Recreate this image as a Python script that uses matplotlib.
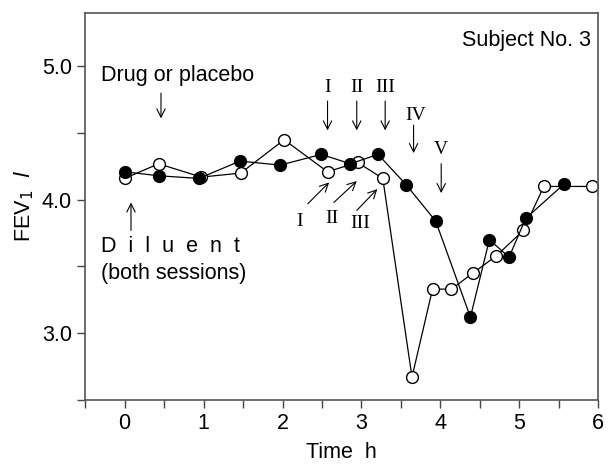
import numpy as np
import matplotlib
matplotlib.use("Agg")
import matplotlib.pyplot as plt
from matplotlib.ticker import MultipleLocator, FormatStrFormatter

plt.rcParams.update({"font.family": ["Liberation Sans", "DejaVu Sans"],
                     "font.size": 15})

# drug session (filled)
t_drug = [0.0, 0.43, 0.94, 1.46, 1.97, 2.49, 2.86, 3.21, 3.57, 3.94, 4.38, 4.62, 4.87, 5.08, 5.57]
fev_drug = [4.21, 4.18, 4.16, 4.29, 4.26, 4.34, 4.27, 4.34, 4.11, 3.84, 3.12, 3.70, 3.57, 3.86, 4.12]

# placebo session (open)
t_plac = [0.0, 0.43, 0.97, 1.47, 2.02, 2.57, 2.95, 3.27, 3.64, 3.90, 4.14, 4.41, 4.71, 5.05, 5.31, 5.92]
fev_plac = [4.16, 4.27, 4.17, 4.20, 4.45, 4.21, 4.28, 4.16, 2.67, 3.33, 3.33, 3.45, 3.58, 3.77, 4.10, 4.10]

x_ticks = [0, 1, 2, 3, 4, 5, 6]
y_ticks = [3.0, 4.0, 5.0]

fig = plt.figure(figsize=(6.13, 4.66), dpi=100)
ax = fig.add_axes([0.139, 0.142, 0.837, 0.830])

ax.plot(t_plac, fev_plac, "-", color="black", lw=0.9, marker="o", ms=8.5,
        mfc="white", mec="black", mew=1.0, zorder=2)
ax.plot(t_drug, fev_drug, "-", color="black", lw=0.9, marker="o", ms=8.5,
        mfc="black", mec="black", zorder=3)

ax.set_xlim(-0.5, 6.0)
ax.set_ylim(2.5, 5.4)
ax.set_xticks(x_ticks)
ax.set_yticks(y_ticks)
ax.xaxis.set_minor_locator(MultipleLocator(0.5))
ax.yaxis.set_minor_locator(MultipleLocator(0.5))
ax.yaxis.set_major_formatter(FormatStrFormatter("%.1f"))
ax.tick_params(which="both", direction="out", length=6, width=1.0, color="#444444")
ax.tick_params(labelsize=15.5)
for s in ax.spines.values():
    s.set_color("#555555")
    s.set_linewidth(1.2)

ax.set_xlabel("Time  h", fontsize=15.5, labelpad=6)
ax.set_ylabel(r"FEV$_1$  $\mathit{l}$", fontsize=15.5, labelpad=4)

ax.text(0.985, 0.955, "Subject No. 3", transform=ax.transAxes, ha="right", va="top", fontsize=15.5)

# annotations
arr = dict(arrowstyle="->,head_length=0.6,head_width=0.3", color="black", lw=0.8,
           mutation_scale=10, shrinkA=0, shrinkB=0)
ax.text(-0.30, 4.93, "Drug or placebo", ha="left", va="center", fontsize=15.5)
ax.annotate("", xy=(0.46, 4.61), xytext=(0.46, 4.80), arrowprops=arr)

serif = "Liberation Serif"
for xt, lab in [(2.57, "I"), (2.94, "II"), (3.30, "III")]:
    ax.text(xt, 4.84, lab, ha="center", va="center", fontsize=14, family=serif)
    ax.annotate("", xy=(xt, 4.52), xytext=(xt, 4.74), arrowprops=arr)
ax.text(3.69, 4.63, "IV", ha="center", va="center", fontsize=14, family=serif)
ax.annotate("", xy=(3.66, 4.35), xytext=(3.66, 4.56), arrowprops=arr)
ax.text(4.01, 4.38, "V", ha="center", va="center", fontsize=14, family=serif)
ax.annotate("", xy=(4.01, 4.05), xytext=(4.01, 4.27), arrowprops=arr)

for (x0, y0, x1, y1), (xt, yt, lab) in [((2.32, 3.97, 2.59, 4.13), (2.21, 3.84, "I")),
                                        ((2.65, 3.98, 2.94, 4.14), (2.63, 3.86, "II")),
                                        ((2.94, 3.92, 3.20, 4.08), (2.98, 3.82, "III"))]:
    ax.annotate("", xy=(x1, y1), xytext=(x0, y0), arrowprops=arr)
    ax.text(xt, yt, lab, ha="center", va="center", fontsize=14, family=serif)

ax.annotate("", xy=(0.08, 3.98), xytext=(0.08, 3.77), arrowprops=arr)
ax.text(-0.30, 3.65, "D  i  l  u  e  n  t", ha="left", va="center", fontsize=15.5)
ax.text(-0.30, 3.45, "(both sessions)", ha="left", va="center", fontsize=15.5)

fig.savefig("out.png", dpi=100)
